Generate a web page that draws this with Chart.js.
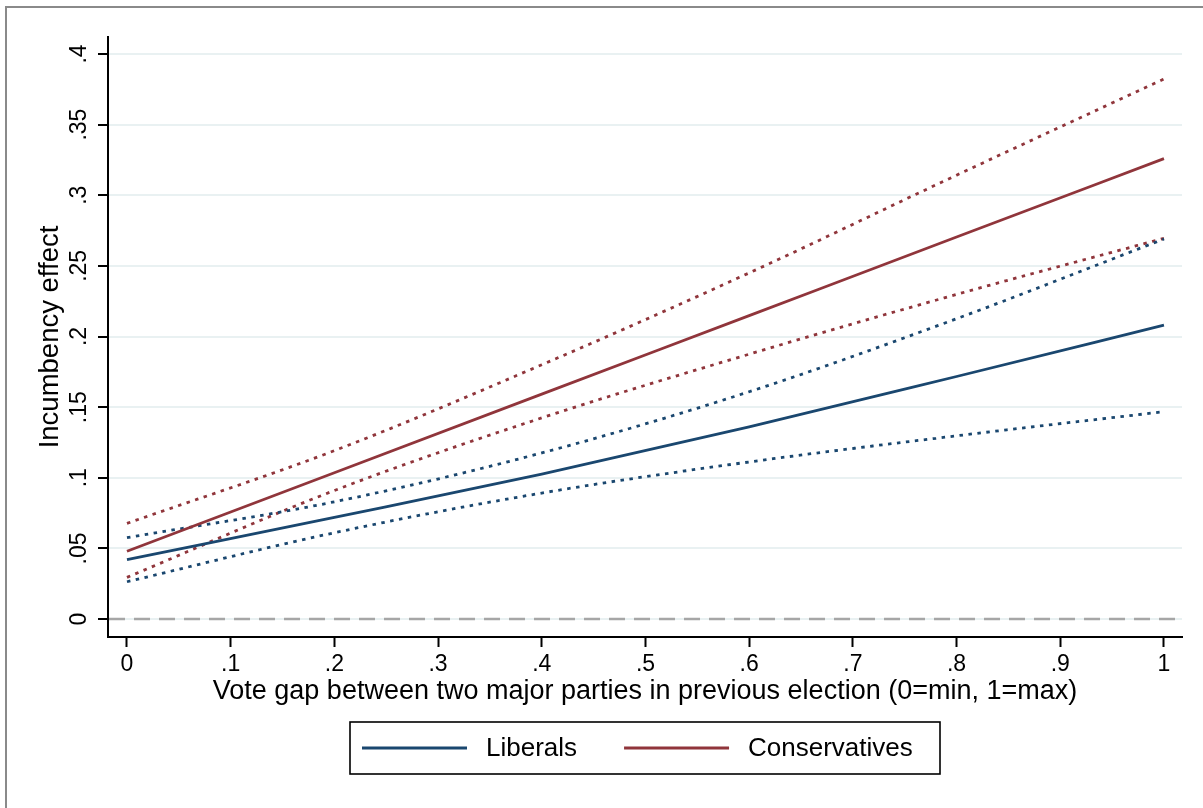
<!DOCTYPE html>
<html>
<head>
<meta charset="utf-8">
<script src="https://cdn.jsdelivr.net/npm/chart.js@4.4.1/dist/chart.umd.min.js"></script>
<style>
  html, body { margin: 0; padding: 0; background: #ffffff; }
  #wrap { width: 1203px; height: 808px; position: relative; }
</style>
</head>
<body>
<div id="wrap"><canvas id="chart" width="1203" height="808"></canvas></div>
<script>
// Vote gap (0 = smallest, 1 = largest) at which the effect is evaluated
const voteGap = [0, 0.2, 0.4, 0.6, 0.8, 1];

// Liberals: marginal incumbency effect with 95% bounds
const libEffect = [0.042, 0.072, 0.1026, 0.136, 0.1717, 0.208];
const libUpper  = [0.0576, 0.083, 0.1176, 0.1609, 0.2126, 0.269];
const libLower  = [0.0264, 0.0611, 0.0892, 0.1112, 0.1297, 0.1468];

// Conservatives: marginal incumbency effect with 95% bounds
const conEffect = [0.048, 0.1036, 0.1592, 0.2148, 0.2704, 0.3259];
const conUpper  = [0.0677, 0.1192, 0.180, 0.245, 0.3142, 0.3823];
const conLower  = [0.0295, 0.091, 0.1424, 0.1875, 0.2298, 0.2695];

// Axis ticks and their printed labels
const xTicks = [0, 0.1, 0.2, 0.3, 0.4, 0.5, 0.6, 0.7, 0.8, 0.9, 1];
const xTickLabels = ['0', '.1', '.2', '.3', '.4', '.5', '.6', '.7', '.8', '.9', '1'];
const yTicks = [0, 0.05, 0.1, 0.15, 0.2, 0.25, 0.3, 0.35, 0.4];
const yTickLabels = ['0', '.05', '.1', '.15', '.2', '.25', '.3', '.35', '.4'];

const seriesNames = ['Liberals', 'Conservatives'];
const zeroLine = 0;

const NAVY = '#1a476f';
const MAROON = '#90353b';
const FONT = "'Liberation Sans', Arial, Helvetica, sans-serif";

Chart.defaults.font.family = FONT;
Chart.defaults.color = '#000';

const pts = ys => voteGap.map((x, i) => ({ x: x, y: ys[i] }));

const solid = (label, ys, color) => ({
  label: label, data: pts(ys), borderColor: color, backgroundColor: color,
  borderWidth: 2.8, pointRadius: 0, fill: false, cubicInterpolationMode: 'monotone',
  legendKey: true
});
const dotted = (label, ys, color) => ({
  label: label, data: pts(ys), borderColor: color, backgroundColor: color,
  borderWidth: 2.8, borderDash: [3.5, 5.5], pointRadius: 0, fill: false,
  cubicInterpolationMode: 'monotone'
});

// Frame around the graph region
const frame = {
  id: 'frame',
  beforeDraw(chart) {
    const ctx = chart.ctx;
    ctx.save();
    ctx.fillStyle = '#ffffff';
    ctx.fillRect(0, 0, chart.width, chart.height);
    ctx.strokeStyle = '#8a8a8a';
    ctx.lineWidth = 2;
    ctx.beginPath();
    ctx.moveTo(6, chart.height);
    ctx.lineTo(6, 7);
    ctx.lineTo(chart.width, 7);
    ctx.stroke();
    ctx.restore();
  }
};

// Dashed reference line at zero effect
const refLine = {
  id: 'refLine',
  beforeDatasetsDraw(chart) {
    const { ctx, chartArea, scales } = chart;
    const y = scales.y.getPixelForValue(zeroLine);
    ctx.save();
    ctx.strokeStyle = '#a6a6a6';
    ctx.lineWidth = 2.6;
    ctx.setLineDash([16, 9]);
    ctx.beginPath();
    ctx.moveTo(chartArea.left + 1, y);
    ctx.lineTo(chartArea.right, y);
    ctx.stroke();
    ctx.restore();
  }
};

// Boxed legend beneath the axis title
const boxedLegend = {
  id: 'boxedLegend',
  afterDraw(chart) {
    const { ctx, chartArea } = chart;
    const items = chart.data.datasets.filter(d => d.legendKey);
    const w = 590, h = 52;
    const cx = (chartArea.left + chartArea.right) / 2;
    const left = cx - w / 2;
    const top = chart.scales.x.bottom + 13;
    const midY = top + h / 2;
    ctx.save();
    ctx.strokeStyle = '#000';
    ctx.lineWidth = 1.6;
    ctx.strokeRect(left, top, w, h);
    ctx.font = '26px ' + FONT;
    ctx.textBaseline = 'middle';
    ctx.textAlign = 'left';
    let x = left + 12;
    items.forEach((d, i) => {
      ctx.strokeStyle = d.borderColor;
      ctx.lineWidth = 2.8;
      ctx.beginPath();
      ctx.moveTo(x, midY);
      ctx.lineTo(x + 105, midY);
      ctx.stroke();
      x += 105 + 19;
      ctx.fillStyle = '#000';
      ctx.fillText(d.label, x, midY + 1);
      x += ctx.measureText(d.label).width + 47;
    });
    ctx.restore();
  }
};

new Chart(document.getElementById('chart'), {
  type: 'line',
  data: {
    datasets: [
      solid(seriesNames[0], libEffect, NAVY),
      solid(seriesNames[1], conEffect, MAROON),
      dotted(seriesNames[0] + ' upper', libUpper, NAVY),
      dotted(seriesNames[0] + ' lower', libLower, NAVY),
      dotted(seriesNames[1] + ' upper', conUpper, MAROON),
      dotted(seriesNames[1] + ' lower', conLower, MAROON)
    ]
  },
  options: {
    responsive: false,
    animation: false,
    layout: { padding: { left: 0, top: 37, right: 21, bottom: 99 } },
    plugins: { legend: { display: false }, tooltip: { enabled: false } },
    scales: {
      x: {
        type: 'linear',
        min: -0.0183,
        max: 1.0174,
        afterBuildTicks: s => { s.ticks = xTicks.map(v => ({ value: v })); },
        afterFit: s => { s.height = 72; },
        ticks: {
          callback: (v, i) => xTickLabels[i],
          font: { size: 23 }, color: '#000', padding: 4,
          maxRotation: 0, minRotation: 0, autoSkip: false
        },
        grid: { drawOnChartArea: false, drawTicks: true, tickLength: 10, tickColor: '#000', tickWidth: 2 },
        border: { display: true, color: '#000', width: 2 },
        title: {
          display: true,
          text: 'Vote gap between two major parties in previous election (0=min, 1=max)',
          font: { size: 27 }, color: '#000', padding: { top: 0, bottom: 1 }
        }
      },
      y: {
        type: 'linear',
        min: -0.0127,
        max: 0.412,
        afterBuildTicks: s => { s.ticks = yTicks.map(v => ({ value: v })); },
        afterFit: s => { s.width = 108; },
        ticks: {
          callback: (v, i) => yTickLabels[i],
          font: { size: 23 }, color: '#000', padding: 2,
          minRotation: 90, maxRotation: 90, crossAlign: 'center', autoSkip: false
        },
        grid: { color: '#e9f1f2', lineWidth: 2, drawTicks: true, tickLength: 10, tickColor: '#000', tickWidth: 2 },
        border: { display: true, color: '#000', width: 2 },
        title: {
          display: true, text: 'Incumbency effect',
          font: { size: 27.5 }, color: '#000', padding: { top: 34, bottom: 0 }
        }
      }
    }
  },
  plugins: [frame, refLine, boxedLegend]
});
</script>
</body>
</html>
